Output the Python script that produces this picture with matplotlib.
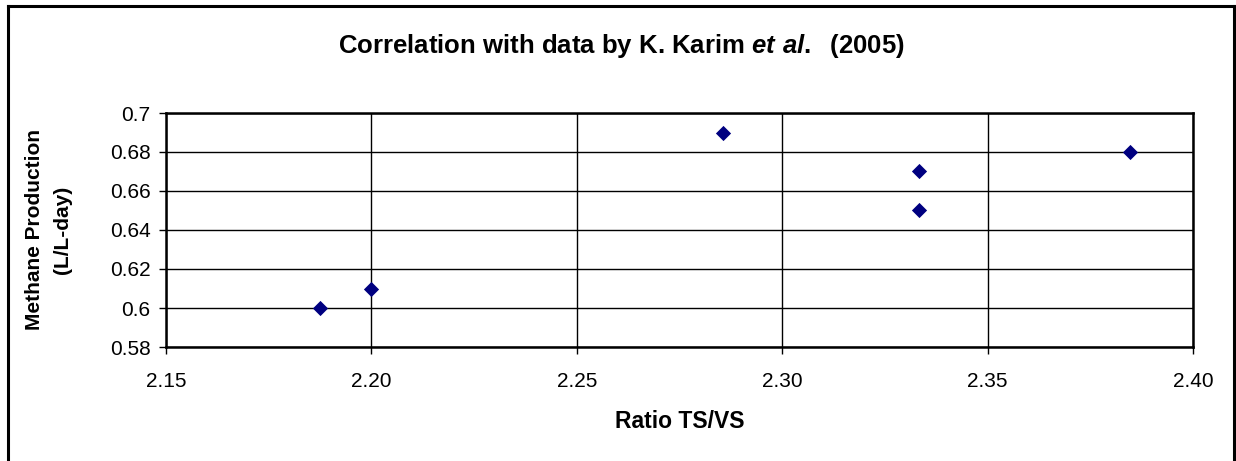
import matplotlib
matplotlib.use("Agg")
import matplotlib.pyplot as plt
from matplotlib.lines import Line2D

# data
ratio_ts_vs = [2.1875, 2.20, 2.2857, 2.3333, 2.3333, 2.3846]
methane = [0.60, 0.61, 0.69, 0.67, 0.65, 0.68]

x_ticks = [2.15, 2.20, 2.25, 2.30, 2.35, 2.40]
y_ticks = [0.58, 0.60, 0.62, 0.64, 0.66, 0.68, 0.70]
y_tick_labels = ["0.58", "0.6", "0.62", "0.64", "0.66", "0.68", "0.7"]

plt.rcParams['font.family'] = ['Liberation Sans', 'DejaVu Sans']
# italic bold for the "et al." part of the title
plt.rcParams['mathtext.fontset'] = 'custom'
plt.rcParams['mathtext.it'] = 'Liberation Sans:italic:bold'
plt.rcParams['mathtext.rm'] = 'Liberation Sans:bold'

W, H = 1236, 461
fig = plt.figure(figsize=(W / 100, H / 100), dpi=100)

# axes box in pixels: left 166, right 1193, top 113, bottom 347
ax = fig.add_axes([166 / W, 1 - 347 / H, (1193 - 166) / W, (347 - 113) / H])

ax.scatter(ratio_ts_vs, methane, marker='D', s=60, color='#000080', zorder=3,
           linewidths=0)

ax.set_xlim(2.15, 2.40)
ax.set_ylim(0.58, 0.70)
ax.set_xticks(x_ticks)
ax.set_xticklabels([f"{v:.2f}" for v in x_ticks])
ax.set_yticks(y_ticks)
ax.set_yticklabels(y_tick_labels)
ax.tick_params(axis='both', labelsize=15, direction='out', length=5, width=1)
ax.tick_params(axis='x', pad=13)
ax.tick_params(axis='y', pad=6)

ax.grid(True, color='black', linewidth=1)
ax.set_axisbelow(True)
for s in ax.spines.values():
    s.set_linewidth(1.8)
    s.set_color('black')

ax.set_xlabel("Ratio TS/VS", fontsize=16.5, fontweight='bold', labelpad=14)
ax.set_ylabel("Methane Production\n(L/L-day)", fontsize=15, fontweight='bold',
              labelpad=27, linespacing=1.65)

# title with italic "et al."
fig.text(0.503, 1 - 46 / H, "Correlation with data by K. Karim $et\\ al.$  (2005)",
         ha='center', va='center', fontsize=18.5, fontweight='bold')

# outer chart border (left, top, right)
lw = 2.2
fig.add_artist(Line2D([8 / W, 8 / W], [0, 1 - 6 / H], color='black', lw=lw,
                      transform=fig.transFigure))
fig.add_artist(Line2D([8 / W, 1234 / W], [1 - 6 / H, 1 - 6 / H], color='black', lw=lw,
                      transform=fig.transFigure))
fig.add_artist(Line2D([1234 / W, 1234 / W], [0, 1 - 6 / H], color='black', lw=lw,
                      transform=fig.transFigure))

fig.savefig("out.png", dpi=100)
